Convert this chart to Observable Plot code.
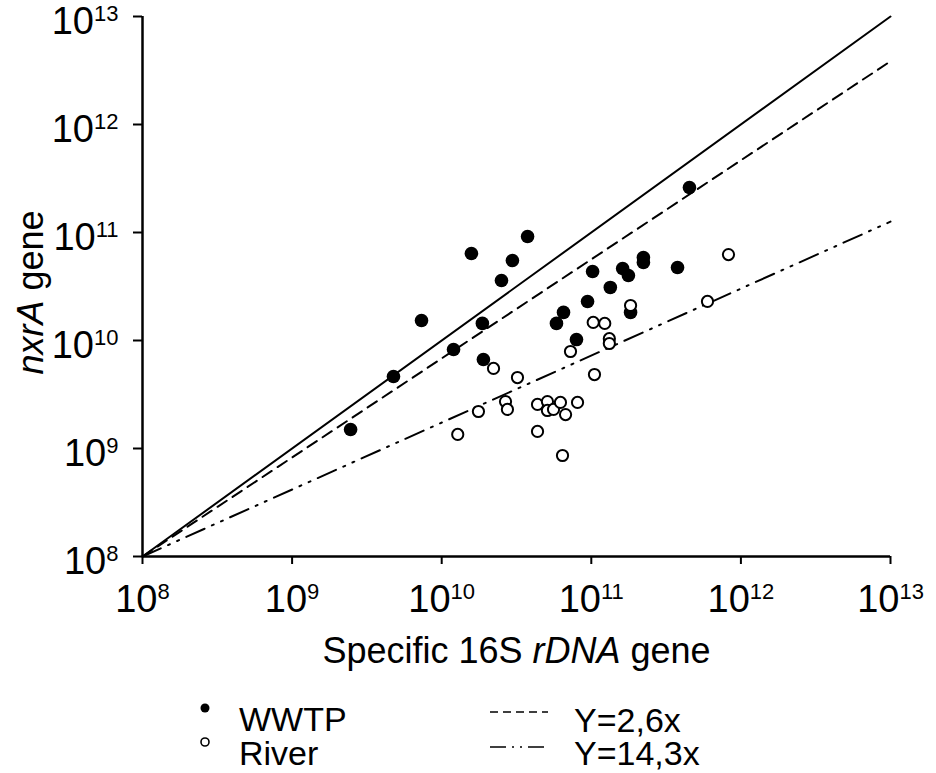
<!DOCTYPE html>
<html>
<head>
<meta charset="utf-8">
<script src="https://cdn.jsdelivr.net/npm/d3@7"></script>
<script src="https://cdn.jsdelivr.net/npm/@observablehq/plot@0.6"></script>
<style>
  body { margin: 0; background: #fff; font-family: "Liberation Sans", Arial, sans-serif; }
  #chart { width: 936px; }
  #chart svg { display: block; }
</style>
</head>
<body>
<div id="chart"></div>
<script>
// ---- data ----
const wwtpX = [2.46e9, 4.76e9, 7.33e9, 1.20e10, 1.87e10, 1.90e10, 1.58e10, 2.51e10, 2.97e10, 3.75e10,
               4.53e11, 1.02e11, 1.62e11, 1.77e11, 2.23e11, 2.23e11, 3.77e11, 1.34e11, 9.44e10, 6.52e10,
               5.85e10, 7.96e10, 1.83e11];
const wwtpY = [1.50e9, 4.64e9, 1.53e10, 8.26e9, 1.44e10, 6.67e9, 6.39e10, 3.59e10, 5.50e10, 9.18e10,
               2.61e11, 4.35e10, 4.64e10, 4.00e10, 5.87e10, 5.27e10, 4.74e10, 3.10e10, 2.30e10, 1.82e10,
               1.44e10, 1.02e10, 1.82e10];
const riverX = [1.28e10, 1.76e10, 2.22e10, 3.21e10, 2.67e10, 2.75e10, 4.37e10, 5.09e10, 5.09e10, 5.59e10,
                6.22e10, 6.73e10, 8.09e10, 4.37e10, 6.42e10, 7.26e10, 1.05e11, 1.03e11, 1.23e11, 1.32e11,
                1.32e11, 1.83e11, 5.98e11, 8.26e11];
const riverY = [1.35e9, 2.20e9, 5.51e9, 4.54e9, 2.72e9, 2.30e9, 2.56e9, 2.72e9, 2.25e9, 2.30e9,
                2.67e9, 2.06e9, 2.67e9, 1.44e9, 8.61e8, 7.91e9, 4.84e9, 1.47e10, 1.44e10, 1.04e10,
                9.38e9, 2.11e10, 2.30e10, 6.25e10];
const fitX       = [1e8, 1e13];
const fitSolid   = [1e8, 1e13];
const fitDashed  = [1e8, 3.85e12];
const fitDashDot = [1e8, 1.26e11];
const tickValues = [1e8, 1e9, 1e10, 1e11, 1e12, 1e13];
const xTitle = ["Specific 16S ", "rDNA", " gene"];
const yTitle = ["nxrA", " gene"];
const groupLabels = ["WWTP", "River"];
const fitLabels = ["Y=2,6x", "Y=14,3x"];

// ---- build tables ----
const wwtp = wwtpX.map((x, i) => ({x, y: wwtpY[i]}));
const river = riverX.map((x, i) => ({x, y: riverY[i]}));
const solid = fitX.map((x, i) => ({x, y: fitSolid[i]}));
const dashed = fitX.map((x, i) => ({x, y: fitDashed[i]}));
const dashdot = fitX.map((x, i) => ({x, y: fitDashDot[i]}));

const FONT = '"Liberation Sans", Arial, sans-serif';
const DASH = "11,7";
const DASHDOT = "20,8,2,8,2,8";

const plot = Plot.plot({
  width: 936,
  height: 690,
  marginLeft: 142,
  marginRight: 46,
  marginTop: 16,
  marginBottom: 134,
  style: {fontFamily: FONT, fontSize: "38px", color: "#000", background: "#fff", overflow: "visible"},
  x: {type: "log", domain: [1e8, 1e13]},
  y: {type: "log", domain: [1e8, 1e13]},
  marks: [
    Plot.line(solid, {x: "x", y: "y", stroke: "#000", strokeWidth: 2}),
    Plot.line(dashed, {x: "x", y: "y", stroke: "#000", strokeWidth: 2, strokeDasharray: DASH}),
    Plot.line(dashdot, {x: "x", y: "y", stroke: "#000", strokeWidth: 2, strokeDasharray: DASHDOT}),
    Plot.dot(wwtp, {x: "x", y: "y", r: 6.8, fill: "#000", stroke: null}),
    Plot.dot(river, {x: "x", y: "y", r: 5.6, fill: "#fff", stroke: "#000", strokeWidth: 2}),
    Plot.ruleX([1e8], {stroke: "#000", strokeWidth: 2.5}),
    Plot.ruleY([1e8], {stroke: "#000", strokeWidth: 2.5}),
    Plot.axisX({ticks: tickValues, tickSize: 8, tickPadding: 21, strokeWidth: 2, fontSize: 38,
                tickFormat: d => String(Math.round(Math.log10(d))), label: null}),
    Plot.axisY({ticks: tickValues, tickSize: 9, tickPadding: 15, strokeWidth: 2, fontSize: 38,
                tickFormat: d => String(Math.round(Math.log10(d))), label: null}),
    Plot.text([xTitle.join("")], {text: d => d, frameAnchor: "bottom", dy: 106, fontSize: 36, fill: "#000"}),
    Plot.text([yTitle.join("")], {text: d => d, frameAnchor: "left", textAnchor: "middle", dx: -111, dy: 6,
                                  rotate: -90, fontSize: 36, fill: "#000"})
  ]
});

const svg = d3.select(plot);
// superscript tick labels: 10^n
svg.selectAll('g[aria-label="x-axis tick label"] text, g[aria-label="y-axis tick label"] text').each(function () {
  const e = this.textContent;
  this.textContent = "";
  const t = d3.select(this);
  t.append("tspan").text("10");
  t.append("tspan").attr("dy", -13).attr("font-size", 22).text(e);
});
svg.selectAll('g[aria-label="y-axis tick label"] text').attr("y", "0.46em");

// italic parts of titles
function styleTitle(parts, italicIdx) {
  const full = parts.join("");
  svg.selectAll('g[aria-label="text"] text').each(function () {
    if (this.textContent !== full) return;
    this.textContent = "";
    const t = d3.select(this);
    parts.forEach((p, i) => {
      const s = t.append("tspan").text(p);
      if (i === italicIdx) s.attr("font-style", "italic");
    });
    t.attr("xml:space", "preserve").style("white-space", "pre");
  });
}
styleTitle(xTitle, 1);
styleTitle(yTitle, 0);

document.getElementById("chart").appendChild(plot);

// ---- legend below the plot ----
const leg = d3.select("#chart").append("svg")
  .attr("width", 936).attr("height", 83)
  .style("font-family", FONT).style("font-size", "34px");
// group markers
leg.append("circle").attr("cx", 205).attr("cy", 18).attr("r", 4.5).attr("fill", "#000");
leg.append("circle").attr("cx", 205).attr("cy", 52).attr("r", 4).attr("fill", "#fff").attr("stroke", "#000").attr("stroke-width", 1.6);
leg.selectAll("text.g").data(groupLabels).join("text").attr("class", "g")
  .attr("x", 239).attr("y", (d, i) => 29 + i * 34).attr("dy", "0.35em").text(d => d);
// fit line samples
leg.append("line").attr("x1", 490).attr("x2", 548).attr("y1", 22).attr("y2", 22)
  .attr("stroke", "#000").attr("stroke-width", 1.6).attr("stroke-dasharray", "8,5");
leg.append("line").attr("x1", 490).attr("x2", 548).attr("y1", 57).attr("y2", 57)
  .attr("stroke", "#000").attr("stroke-width", 1.6).attr("stroke-dasharray", "16,6,2,6,2,6");
leg.selectAll("text.f").data(fitLabels).join("text").attr("class", "f")
  .attr("x", 574).attr("y", (d, i) => 30 + i * 33).attr("dy", "0.35em").text(d => d);
</script>
</body>
</html>
